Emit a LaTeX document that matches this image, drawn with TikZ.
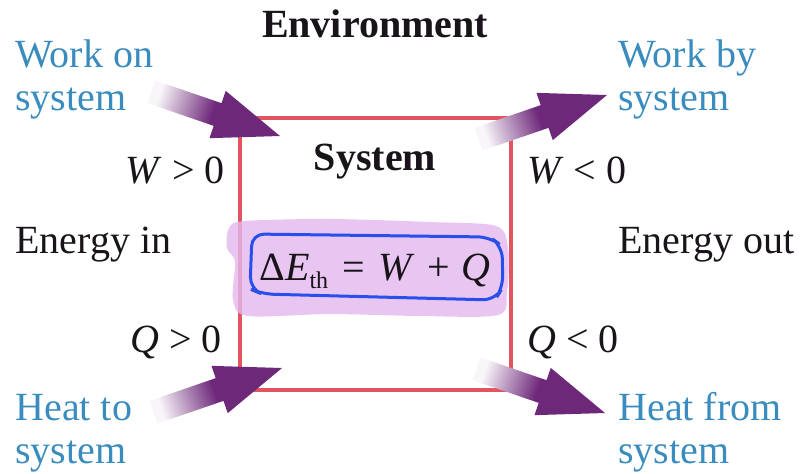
\documentclass[tikz,border=0pt]{standalone}
\usepackage{fontspec}
\setmainfont{Liberation Serif}
\usetikzlibrary{positioning,calc}

\definecolor{labelblue}{RGB}{58,140,190}
\definecolor{arrowpurple}{RGB}{110,40,122}
\definecolor{boxred}{RGB}{226,84,96}
\definecolor{hlpurple}{RGB}{226,184,238}
\definecolor{penblue}{RGB}{40,78,235}
\definecolor{inkdark}{RGB}{25,20,25}

% shaded block arrow: #1 tip, #2 direction, #3 shading angle
\newcommand{\flowarrow}[3]{%
    \shade[top color=arrowpurple, bottom color=arrowpurple!4, middle color=arrowpurple, shading angle=#3, shift={(#1)}, rotate=#2]
        (0, 0) -- (-66, 25) -- (-66, 12) -- (-136, 12) -- (-136, -12) -- (-66, -12) -- (-66, -25) -- cycle;
}

\begin{document}
\begin{tikzpicture}[x=0.5pt, y=-0.5pt,
    every node/.style={inner sep=0pt, text=inkdark, font=\fontsize{20}{24}\selectfont},
    lbl/.style={anchor=base west, text=labelblue}]
    \useasboundingbox (0, 0) rectangle (807, 473);

    % System boundary
    \draw[boxred, line width=1.8pt] (240, 118) rectangle (511, 390);

    % Highlighted equation
    \fill[hlpurple, opacity=0.8] plot[smooth cycle] coordinates {(245, 221) (330, 219) (430, 222) (496, 226) (508, 248) (507, 292) (498, 315) (420, 316) (330, 314) (248, 316) (233, 300) (235, 262) (227, 248) (229, 228)};
    \draw[penblue, line width=1.5pt, rounded corners=6pt] (252, 234) -- (490, 237) -- (502, 246) -- (503, 287) -- (495, 300) -- (262, 294) -- (250, 289) -- cycle;
    \node[anchor=base] (eq) at (375, 280) {Δ\textit{E}\raisebox{-4pt}{\fontsize{12}{12}\selectfont th}\hspace{0.35em}=\hspace{0.35em}\textit{W}\hspace{0.3em}+\hspace{0.3em}\textit{Q}};

    % Energy transfer arrows
    \coordinate (worktip) at (280, 136);
    \coordinate (heattip) at (282, 368);
    \coordinate (worktipout) at (607, 95);
    \coordinate (heattipout) at (605, 413);
    \foreach \tip/\ang/\shang in {worktip/-19/-109, heattip/19/-71, worktipout/19/-71, heattipout/-19/-109} {
        \flowarrow{\tip}{\ang}{\shang}
    }

    % Headings
    \node[anchor=base] (env) at (375, 37) {\textbf{Environment}};
    \node[anchor=base] (sys) at (375, 170) {\textbf{System}};

    % Left side: into the system
    \node[lbl] (workon) at (15, 67) {Work on};
    \node[lbl] (workonsys) at (15, 110) {system};
    \node[anchor=base east] (win) at (225, 183) {\textit{W} > 0};
    \node[anchor=base west] (ein) at (15, 253) {Energy in};
    \node[anchor=base east] (qin) at (222, 352) {\textit{Q} > 0};
    \node[lbl] (heatto) at (15, 420) {Heat to};
    \node[lbl] (heattosys) at (15, 463) {system};

    % Right side: out of the system
    \node[lbl] (workby) at (618, 67) {Work by};
    \node[lbl] (workbysys) at (618, 110) {system};
    \node[anchor=base west] (wout) at (527, 183) {\textit{W} < 0};
    \node[anchor=base west] (eout) at (618, 253) {Energy out};
    \node[anchor=base west] (qout) at (527, 352) {\textit{Q} < 0};
    \node[lbl] (heatfrom) at (618, 420) {Heat from};
    \node[lbl] (heatfromsys) at (618, 463) {system};
\end{tikzpicture}
\end{document}
